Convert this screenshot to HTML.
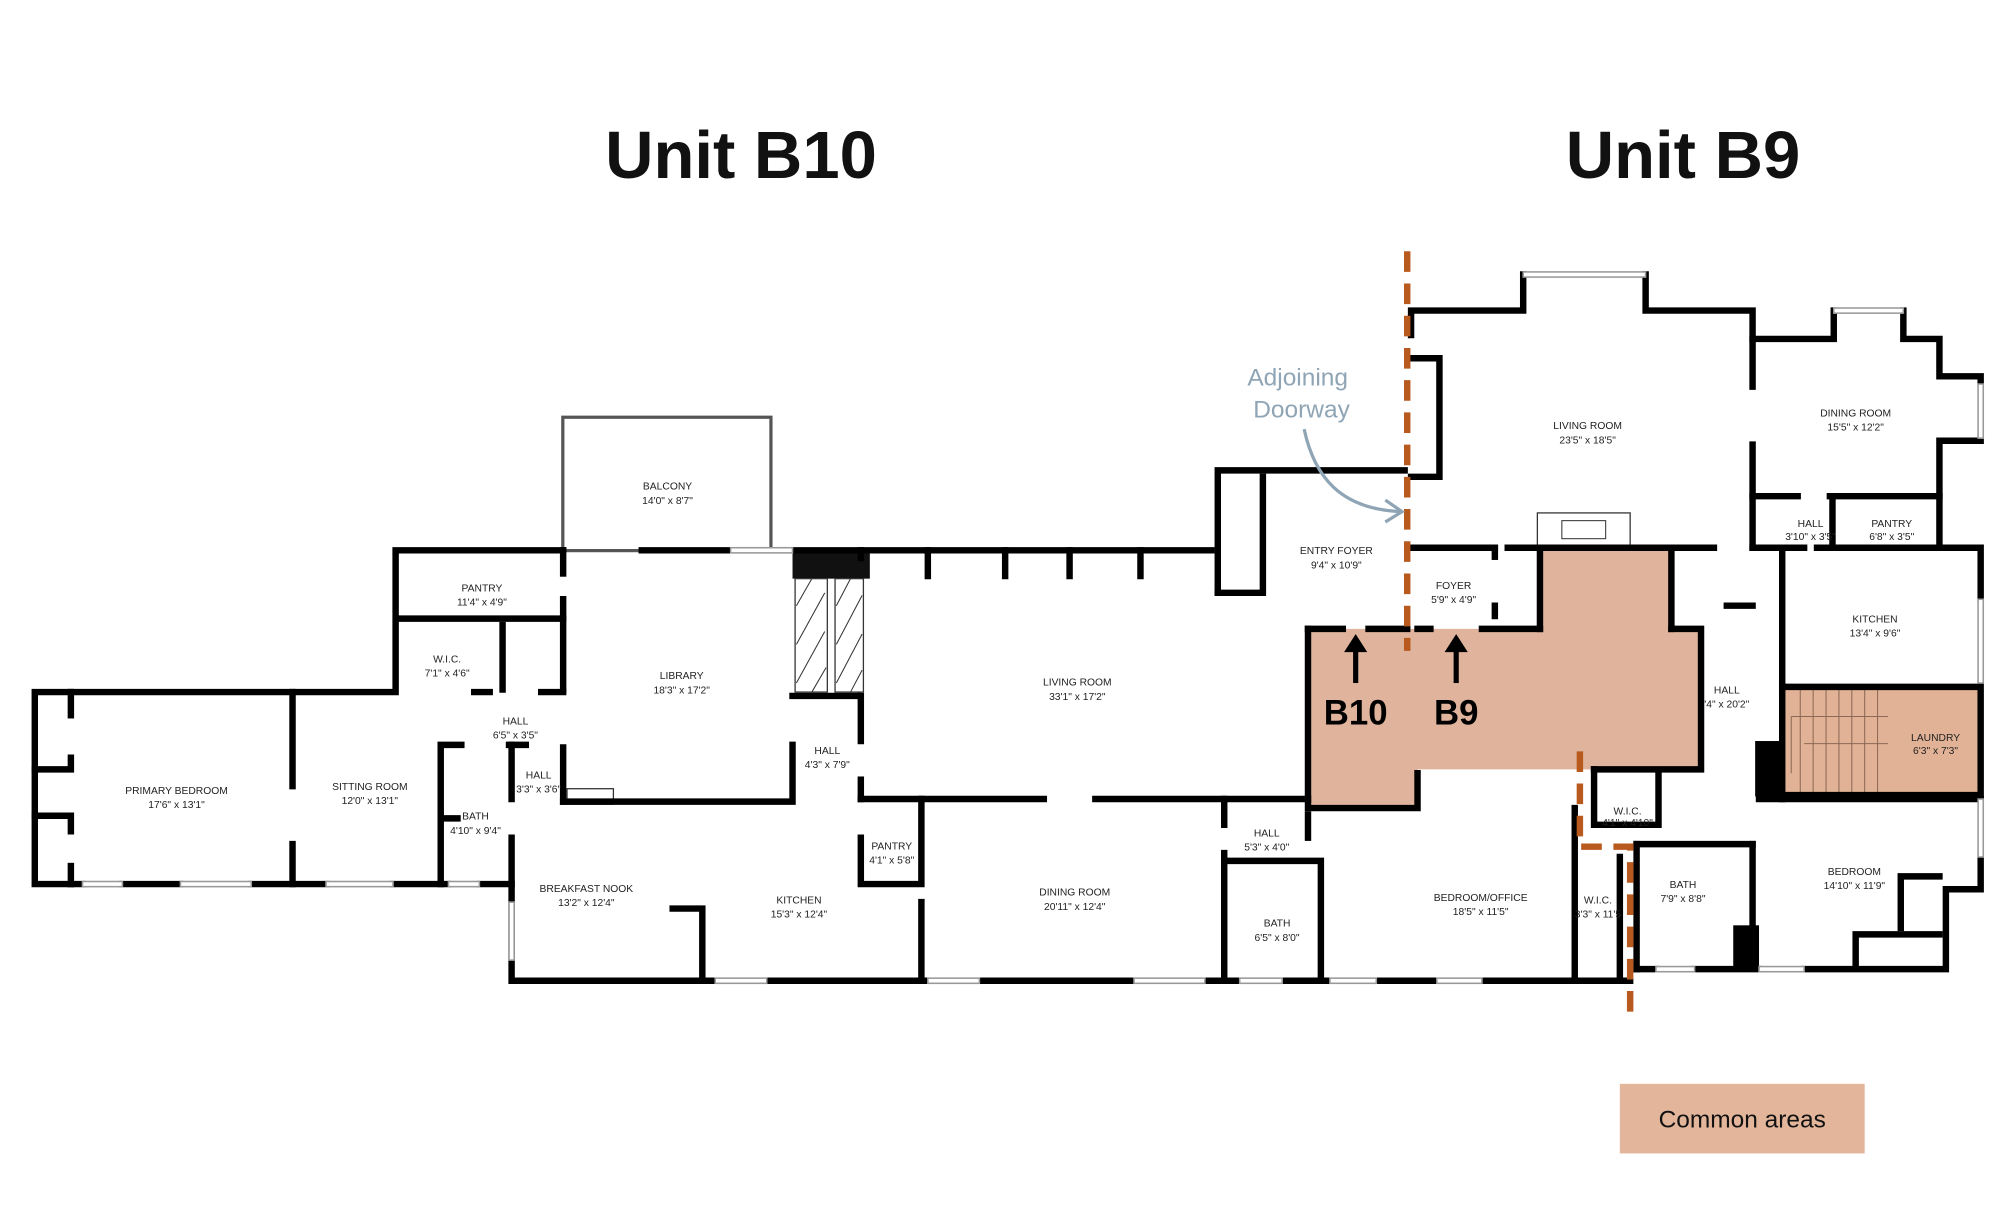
<!DOCTYPE html>
<html><head><meta charset="utf-8"><style>
html,body{margin:0;padding:0;background:#fff;}
svg{display:block;}
text{font-family:"Liberation Sans",sans-serif;}
.r{font-size:8px;fill:#222;text-anchor:middle;}
</style></head><body>
<svg width="2000" height="1214" viewBox="0 0 1552 942" preserveAspectRatio="none" xmlns="http://www.w3.org/2000/svg">
<rect width="1552" height="942" fill="#fff"/>
<text x="575" y="138" font-size="52" font-weight="bold" text-anchor="middle" fill="#111">Unit B10</text>
<text x="1306" y="138" font-size="52" font-weight="bold" text-anchor="middle" fill="#111">Unit B9</text>

<!-- common area fill -->
<polygon points="1015,488 1195,488 1195,427 1297,427 1297,488 1320,488 1320,597 1100,597 1100,627 1015,627" fill="#e0b49c"/>
<rect x="1383" y="533" width="152" height="84" fill="#e2b296"/>
<g stroke="#8a6a55" stroke-width="0.8" fill="none">
<line x1="1397" y1="535" x2="1397" y2="615"/><line x1="1407" y1="535" x2="1407" y2="615"/><line x1="1417" y1="535" x2="1417" y2="615"/><line x1="1427" y1="535" x2="1427" y2="615"/><line x1="1437" y1="535" x2="1437" y2="615"/><line x1="1447" y1="535" x2="1447" y2="615"/><line x1="1457" y1="535" x2="1457" y2="615"/>
<line x1="1390" y1="556" x2="1465" y2="556"/><line x1="1390" y1="556" x2="1390" y2="600"/><line x1="1400" y1="577" x2="1465" y2="577"/>
</g>

<!-- balcony -->
<rect x="437" y="324" width="161" height="103" fill="none" stroke="#555" stroke-width="3"/>
<rect x="438.5" y="325.5" width="158" height="100" fill="none" stroke="#fff" stroke-width="1"/>

<!-- fireplace hatch -->
<rect x="615" y="427" width="60" height="22" fill="#111"/>
<rect x="617" y="449" width="25" height="88" fill="#fff" stroke="#333" stroke-width="1"/>
<rect x="648" y="449" width="22" height="88" fill="#fff" stroke="#333" stroke-width="1"/>
<g stroke="#333" stroke-width="0.8">
<line x1="618" y1="470" x2="630" y2="449"/><line x1="618" y1="500" x2="640" y2="460"/><line x1="618" y1="530" x2="640" y2="490"/><line x1="630" y1="537" x2="641" y2="518"/>
<line x1="649" y1="470" x2="660" y2="449"/><line x1="649" y1="500" x2="669" y2="462"/><line x1="649" y1="530" x2="669" y2="492"/><line x1="660" y1="537" x2="669" y2="520"/>
</g>
<rect x="1193" y="398" width="72" height="26" fill="#fff" stroke="#333" stroke-width="1"/>
<rect x="1212" y="404" width="34" height="14" fill="#fff" stroke="#333" stroke-width="0.8"/>
<rect x="440" y="612" width="36" height="12" fill="#fff" stroke="#333" stroke-width="1"/>

<!-- walls -->
<g stroke="#000" stroke-width="5" fill="none" stroke-linecap="square">
<!-- left wing outer -->
<polyline points="64,686 27,686 27,537 307,537 307,427 437,427"/>
<line x1="498" y1="427" x2="567" y2="427"/>
<line x1="615" y1="427" x2="940" y2="427"/>
<polyline points="95,686 140,686"/><polyline points="195,686 253,686"/><polyline points="305,686 348,686"/><polyline points="372,686 397,686 397,761 555,761"/>
<line x1="595" y1="761" x2="720" y2="761"/><line x1="760" y1="761" x2="880" y2="761"/><line x1="935" y1="761" x2="962" y2="761"/><line x1="995" y1="761" x2="1032" y2="761"/><line x1="1068" y1="761" x2="1115" y2="761"/><line x1="1150" y1="761" x2="1265" y2="761"/>
<!-- left wing interior -->
<line x1="55" y1="537" x2="55" y2="555"/><polyline points="27,597 55,597 55,588"/><polyline points="27,633 55,633 55,645"/><line x1="55" y1="672" x2="55" y2="686"/>
<line x1="227" y1="537" x2="227" y2="610"/><line x1="227" y1="655" x2="227" y2="686"/>
<line x1="310" y1="480" x2="437" y2="480"/>
<line x1="390" y1="485" x2="390" y2="535"/>
<line x1="437" y1="427" x2="437" y2="445"/><line x1="437" y1="465" x2="437" y2="535"/><line x1="437" y1="580" x2="437" y2="622"/>
<line x1="368" y1="537" x2="380" y2="537"/><line x1="420" y1="537" x2="437" y2="537"/>
<polyline points="342,686 342,578 358,578"/><line x1="342" y1="635" x2="355" y2="635"/>
<polyline points="395,578 408,578"/><line x1="397" y1="578" x2="397" y2="620"/>
<polyline points="397,650 397,686"/>
<polyline points="437,622 615,622 615,578"/><line x1="615" y1="540" x2="665" y2="540"/>
<line x1="668" y1="427" x2="668" y2="433"/><line x1="720" y1="427" x2="720" y2="447"/><line x1="780" y1="427" x2="780" y2="447"/><line x1="830" y1="427" x2="830" y2="447"/><line x1="885" y1="427" x2="885" y2="447"/>
<line x1="668" y1="540" x2="668" y2="575"/><line x1="668" y1="605" x2="668" y2="620"/>
<polyline points="668,650 668,686 715,686 715,620"/><line x1="715" y1="700" x2="715" y2="761"/>
<line x1="668" y1="620" x2="810" y2="620"/><line x1="850" y1="620" x2="1015" y2="620"/>
<polyline points="522,705 545,705 545,761"/>
<line x1="950" y1="620" x2="950" y2="640"/><line x1="950" y1="662" x2="950" y2="761"/>
<polyline points="950,668 1025,668 1025,761"/>
<line x1="1015" y1="632" x2="1015" y2="650"/>
<!-- entry foyer -->
<polyline points="945,460 945,365 1090,365"/>
<polyline points="980,370 980,460 945,460"/>
<polyline points="1015,488 1015,627 1100,627 1100,600"/>
<line x1="1015" y1="488" x2="1042" y2="488"/><line x1="1062" y1="488" x2="1092" y2="488"/>
<!-- B9 -->
<polyline points="1095,260 1095,241 1182,241 1182,213"/><polyline points="1277,213 1277,241 1360,241 1360,300"/><line x1="1360" y1="345" x2="1360" y2="425"/>
<polyline points="1095,278 1117,278 1117,370 1095,370"/>
<polyline points="1360,263 1423,263 1423,241"/><polyline points="1477,241 1477,263 1505,263 1505,292 1537,292 1537,298"/>
<polyline points="1537,340 1537,342 1505,342 1505,425 1537,425 1537,465"/>
<line x1="1537" y1="530" x2="1537" y2="620"/>
<polyline points="1537,665 1537,690 1510,690 1510,752 1400,752"/><line x1="1365" y1="752" x2="1315" y2="752"/><line x1="1285" y1="752" x2="1270" y2="752"/>
<line x1="1360" y1="385" x2="1395" y2="385"/><line x1="1420" y1="385" x2="1505" y2="385"/>
<line x1="1360" y1="425" x2="1400" y2="425"/><line x1="1410" y1="425" x2="1505" y2="425"/>
<line x1="1422" y1="385" x2="1422" y2="425"/>
<line x1="1195" y1="425" x2="1297" y2="425"/><line x1="1297" y1="425" x2="1330" y2="425"/>
<polyline points="1092,425 1160,425"/><line x1="1160" y1="425" x2="1160" y2="432"/><line x1="1160" y1="470" x2="1160" y2="478"/>
<polyline points="1170,425 1195,425 1195,488"/><line x1="1100" y1="488" x2="1110" y2="488"/><line x1="1150" y1="488" x2="1195" y2="488"/>
<polyline points="1297,488 1320,488 1320,597 1237,597"/>
<line x1="1297" y1="425" x2="1297" y2="488"/>
<line x1="1383" y1="425" x2="1383" y2="620"/><line x1="1340" y1="470" x2="1360" y2="470"/>
<polyline points="1237,597 1237,640 1287,640 1287,600"/>
<line x1="1270" y1="655" x2="1360" y2="655"/><line x1="1360" y1="655" x2="1360" y2="720"/>
<line x1="1270" y1="655" x2="1270" y2="752"/>
<line x1="1365" y1="620" x2="1537" y2="620"/>
<polyline points="1440,750 1440,725 1505,725"/><polyline points="1505,680 1475,680 1475,720"/>
<line x1="1383" y1="533" x2="1535" y2="533"/><line x1="1383" y1="617" x2="1535" y2="617"/>
<line x1="1222" y1="627" x2="1222" y2="761"/><line x1="1257" y1="665" x2="1257" y2="761"/>
</g>
<rect x="1362" y="575" width="21" height="43" fill="#000"/>
<rect x="1345" y="718" width="20" height="34" fill="#000"/>

<!-- windows -->
<g stroke="#999" stroke-width="1.2" fill="#fff">
<rect x="64" y="684" width="31" height="4"/><rect x="140" y="684" width="55" height="4"/><rect x="253" y="684" width="52" height="4"/><rect x="348" y="684" width="24" height="4"/>
<rect x="555" y="759" width="40" height="4"/><rect x="720" y="759" width="40" height="4"/><rect x="880" y="759" width="55" height="4"/><rect x="962" y="759" width="33" height="4"/><rect x="1032" y="759" width="36" height="4"/><rect x="1115" y="759" width="35" height="4"/>
<rect x="567" y="425" width="48" height="4"/><rect x="395" y="700" width="4" height="45"/>
<rect x="1182" y="211" width="95" height="4"/><rect x="1423" y="239" width="54" height="4"/><rect x="1535" y="298" width="4" height="42"/><rect x="1535" y="465" width="4" height="65"/><rect x="1535" y="620" width="4" height="45"/>
<rect x="1285" y="750" width="30" height="4"/><rect x="1365" y="750" width="35" height="4"/>
</g>

<!-- dashed property line -->
<g stroke="#b85a1e" stroke-width="5" fill="none" stroke-dasharray="16,9">
<line x1="1092" y1="195" x2="1092" y2="505"/>
<polyline points="1226,583 1226,657 1265,657 1265,790"/>
</g>

<!-- adjoining doorway -->
<text x="1007" y="299" font-size="19" fill="#8fa5b5" text-anchor="middle">Adjoining</text>
<text x="1010" y="324" font-size="19" fill="#8fa5b5" text-anchor="middle">Doorway</text>
<path d="M1012,333 C1020,370 1040,395 1087,397" stroke="#8fa5b5" stroke-width="2.5" fill="none"/>
<path d="M1075,388 L1088,397 L1075,405" stroke="#8fa5b5" stroke-width="2.5" fill="none"/>

<!-- B10/B9 arrows -->
<g stroke="#000" stroke-width="4"><line x1="1052" y1="530" x2="1052" y2="502"/><line x1="1130" y1="530" x2="1130" y2="502"/></g>
<polygon points="1043,506 1052,492 1061,506" fill="#000"/><polygon points="1121,506 1130,492 1139,506" fill="#000"/>
<text x="1052" y="562" font-size="27" font-weight="bold" text-anchor="middle">B10</text>
<text x="1130" y="562" font-size="27" font-weight="bold" text-anchor="middle">B9</text>

<!-- room labels -->
<g class="r">
<text x="518" y="380">BALCONY</text><text x="518" y="391">14'0" x 8'7"</text>
<text x="374" y="459">PANTRY</text><text x="374" y="470">11'4" x 4'9"</text>
<text x="347" y="514">W.I.C.</text><text x="347" y="525">7'1" x 4'6"</text>
<text x="529" y="527">LIBRARY</text><text x="529" y="538">18'3" x 17'2"</text>
<text x="400" y="562">HALL</text><text x="400" y="573">6'5" x 3'5"</text>
<text x="418" y="604">HALL</text><text x="418" y="615">3'3" x 3'6"</text>
<text x="137" y="616">PRIMARY BEDROOM</text><text x="137" y="627">17'6" x 13'1"</text>
<text x="287" y="613">SITTING ROOM</text><text x="287" y="624">12'0" x 13'1"</text>
<text x="369" y="636">BATH</text><text x="369" y="647">4'10" x 9'4"</text>
<text x="642" y="585">HALL</text><text x="642" y="596">4'3" x 7'9"</text>
<text x="836" y="532">LIVING ROOM</text><text x="836" y="543">33'1" x 17'2"</text>
<text x="692" y="659">PANTRY</text><text x="692" y="670">4'1" x 5'8"</text>
<text x="455" y="692">BREAKFAST NOOK</text><text x="455" y="703">13'2" x 12'4"</text>
<text x="620" y="701">KITCHEN</text><text x="620" y="712">15'3" x 12'4"</text>
<text x="834" y="695">DINING ROOM</text><text x="834" y="706">20'11" x 12'4"</text>
<text x="983" y="649">HALL</text><text x="983" y="660">5'3" x 4'0"</text>
<text x="991" y="719">BATH</text><text x="991" y="730">6'5" x 8'0"</text>
<text x="1037" y="430">ENTRY FOYER</text><text x="1037" y="441">9'4" x 10'9"</text>
<text x="1128" y="457">FOYER</text><text x="1128" y="468">5'9" x 4'9"</text>
<text x="1232" y="333">LIVING ROOM</text><text x="1232" y="344">23'5" x 18'5"</text>
<text x="1440" y="323">DINING ROOM</text><text x="1440" y="334">15'5" x 12'2"</text>
<text x="1405" y="409">HALL</text><text x="1405" y="419">3'10" x 3'5"</text>
<text x="1468" y="409">PANTRY</text><text x="1468" y="419">6'8" x 3'5"</text>
<text x="1455" y="483">KITCHEN</text><text x="1455" y="494">13'4" x 9'6"</text>
<text x="1340" y="538">HALL</text><text x="1340" y="549">'4" x 20'2"</text>
<text x="1502" y="575">LAUNDRY</text><text x="1502" y="585">6'3" x 7'3"</text>
<text x="1263" y="632">W.I.C.</text><text x="1263" y="641">4'1" x 4'10"</text>
<text x="1149" y="699">BEDROOM/OFFICE</text><text x="1149" y="710">18'5" x 11'5"</text>
<text x="1240" y="701">W.I.C.</text><text x="1240" y="712">3'3" x 11'5</text>
<text x="1306" y="689">BATH</text><text x="1306" y="700">7'9" x 8'8"</text>
<text x="1439" y="679">BEDROOM</text><text x="1439" y="690">14'10" x 11'9"</text>
</g>

<!-- legend -->
<rect x="1257" y="841" width="190" height="54" fill="#e3b69b"/>
<text x="1352" y="875" font-size="19" text-anchor="middle" fill="#111">Common areas</text>
</svg>
</body></html>
